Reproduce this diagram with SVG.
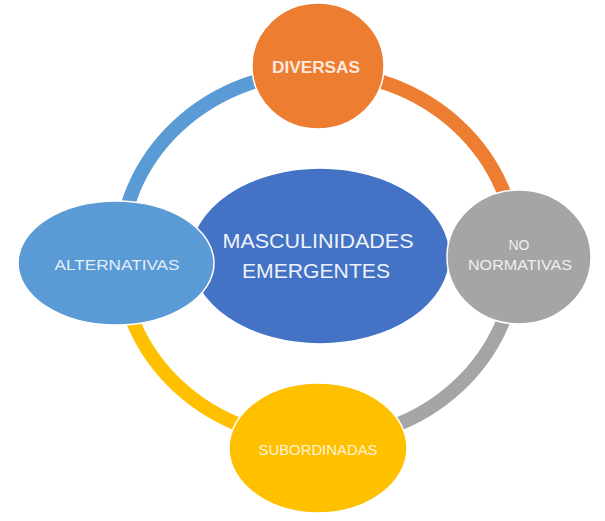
<svg xmlns="http://www.w3.org/2000/svg" width="605" height="521" viewBox="0 0 605 521">
  <style>
    .arc { fill: none; stroke-width: 14; stroke-linecap: butt; }
    .node { stroke: #ffffff; stroke-width: 1.5; }
    .lbl { font-family: "Liberation Sans", Arial, sans-serif; fill: #ffffff; fill-opacity: 0.85; text-anchor: middle; }
    .big { font-family: "Liberation Sans", Arial, sans-serif; fill: #eef3fb; text-anchor: middle; font-size: 21px; }
  </style>
  <rect width="605" height="521" fill="#ffffff"/>
  <g id="connectors">
    <path class="arc" stroke="#5B9BD5" d="M120,256 A198,184 0 0 1 318,72"/>
    <path class="arc" stroke="#ED7D31" d="M318,72 A198,184 0 0 1 516,256"/>
    <path class="arc" stroke="#A5A5A5" d="M516,256 A198,184 0 0 1 318,440"/>
    <path class="arc" stroke="#FFC000" d="M318,440 A198,184 0 0 1 120,256"/>
  </g>
  <g id="center">
    <ellipse class="node" cx="320" cy="256" rx="130" ry="88" fill="#4472C4"/>
    <text class="big" x="318" y="248" textLength="191" lengthAdjust="spacingAndGlyphs">MASCULINIDADES</text>
    <text class="big" x="316" y="278" textLength="148" lengthAdjust="spacingAndGlyphs">EMERGENTES</text>
  </g>
  <g id="alternativas">
    <ellipse class="node" cx="116" cy="263" rx="98" ry="62" fill="#5B9BD5"/>
    <text class="lbl" x="117" y="270" font-size="15" textLength="125" lengthAdjust="spacingAndGlyphs">ALTERNATIVAS</text>
  </g>
  <g id="diversas">
    <ellipse class="node" cx="318" cy="66" rx="66" ry="63" fill="#ED7D31"/>
    <text class="lbl" x="316" y="73" font-size="16" font-weight="bold" textLength="88" lengthAdjust="spacingAndGlyphs">DIVERSAS</text>
  </g>
  <g id="no-normativas">
    <ellipse class="node" cx="519" cy="257" rx="72" ry="67" fill="#A5A5A5"/>
    <text class="lbl" x="519" y="250" font-size="14">NO</text>
    <text class="lbl" x="520" y="270" font-size="15" textLength="104" lengthAdjust="spacingAndGlyphs">NORMATIVAS</text>
  </g>
  <g id="subordinadas">
    <ellipse class="node" cx="318" cy="448" rx="89" ry="65" fill="#FFC000"/>
    <text class="lbl" x="318" y="455" font-size="15" textLength="119" lengthAdjust="spacingAndGlyphs">SUBORDINADAS</text>
  </g>
</svg>
